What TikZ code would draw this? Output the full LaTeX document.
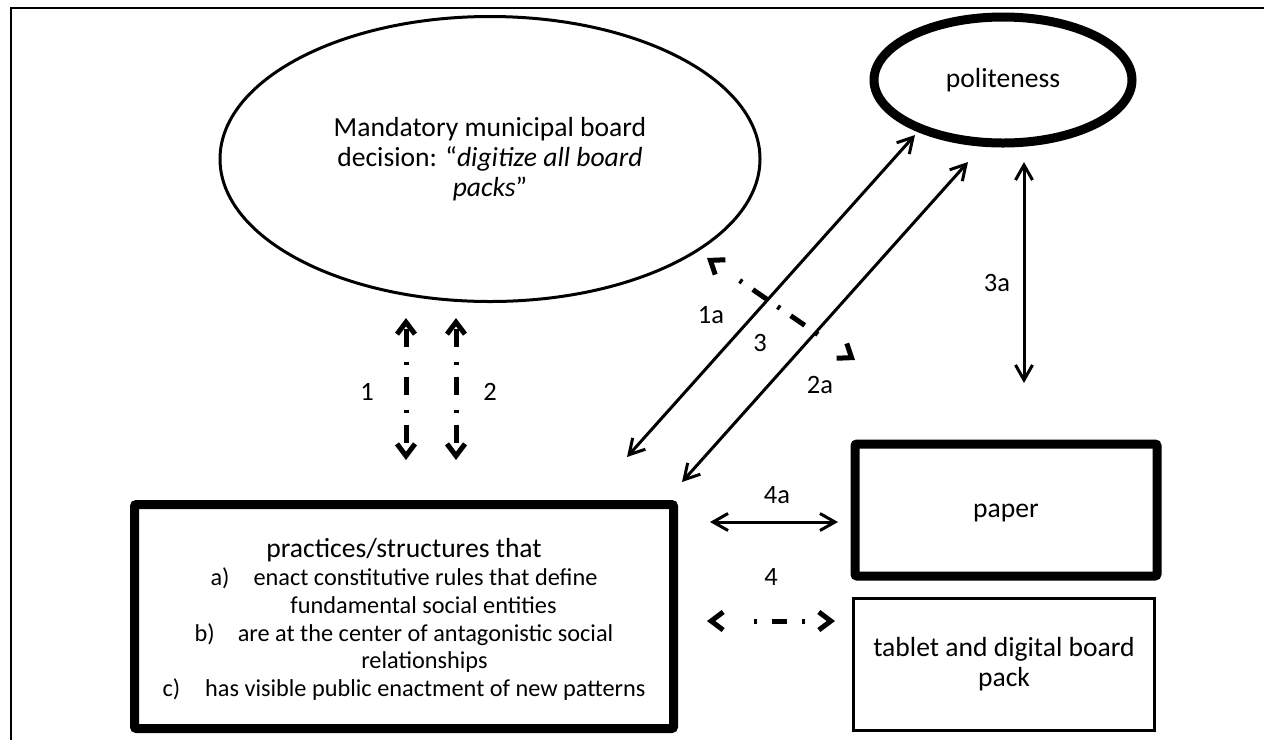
\documentclass[tikz,border=0pt]{standalone}
\usepackage{fontspec}
\setmainfont{Carlito}
\usetikzlibrary{shapes.geometric,arrows.meta}
\begin{document}
\begin{tikzpicture}[x=1pt,y=-1pt,
  every node/.style={inner sep=0pt,outer sep=0pt},
  bigfont/.style={font=\fontsize{27.6}{30}\selectfont},
  thinoval/.style={ellipse,draw,line width=3pt,align=center,bigfont},
  thickoval/.style={ellipse,draw,line width=9pt,bigfont},
  heavybox/.style={draw,line width=9pt,rounded corners=2pt,align=center,bigfont},
  lightbox/.style={draw,line width=3pt,align=center,bigfont},
  lbl/.style={font=\fontsize{26.5}{28}\selectfont},
  solidarrow/.style={line width=3pt,
    {Straight Barb[length=15pt,width=17pt]}-{Straight Barb[length=15pt,width=17pt]}},
  dotdash/.style={line width=5pt,
    {Straight Barb[length=12pt,width=18pt]}-{Straight Barb[length=12pt,width=18pt]}}
]
\useasboundingbox (0,0) rectangle (1264,740);

% outer frame (top and left rules)
\coordinate (fbl) at (11,740);
\coordinate (ftl) at (11,8);
\coordinate (ftr) at (1264,8);
\draw[line width=2.5pt] (fbl) -- (ftl) -- (ftr);

% main shapes
\node[thinoval,minimum width=540pt,minimum height=285pt] (decision) at (490,159)
  {Mandatory municipal board\\decision: “\textit{digitize all board}\\\textit{packs}”};
\node[thickoval,minimum width=258pt,minimum height=126pt] (polite) at (1003,80) {politeness};
\node[heavybox,minimum width=539pt,minimum height=224pt] (practices) at (404,616.5) {};
\node[align=center,font=\fontsize{24.3}{27.8}\selectfont] (practxt) at (404,619.6)
  {{\fontsize{27.6}{27.8}\selectfont practices/structures that}\\
   a)\hspace{24pt}enact constitutive rules that define\\
   \hspace*{39pt}fundamental social entities\\
   b)\hspace{23pt}are at the center of antagonistic social\\
   \hspace*{41pt}relationships\\
   c)\hspace{25pt}has visible public enactment of new patterns};
\node[heavybox,minimum width=302pt,minimum height=132pt,text height=14pt,text depth=0pt] (paper) at (1006,510) {paper};
\node[lightbox,minimum width=301pt,minimum height=132pt] (tablet) at (1004,664.5)
  {tablet and digital board\\pack};

% connector end points
\coordinate (v1t) at (406,318);  \coordinate (v1b) at (406,460);
\coordinate (v2t) at (456,318);  \coordinate (v2b) at (456,460);
\coordinate (d1l) at (627,457);  \coordinate (d1r) at (915,135);
\coordinate (d2l) at (682,482);  \coordinate (d2r) at (968,162);
\coordinate (d3l) at (707,258);  \coordinate (d3r) at (855,360);
\coordinate (p3t) at (1024,162); \coordinate (p3b) at (1024,383);
\coordinate (h4al) at (710,522); \coordinate (h4ar) at (838,522);
\coordinate (h4l) at (707,621);  \coordinate (h4r) at (835,621);

% connectors
\draw[dotdash,dash pattern=on 3pt off 12pt on 18pt off 15pt,dash phase=11pt] (v1t) -- (v1b);
\draw[dotdash,dash pattern=on 3pt off 12pt on 18pt off 15pt,dash phase=11pt] (v2t) -- (v2b);
\draw[solidarrow] (d1l) -- (d1r);
\draw[solidarrow] (d2l) -- (d2r);
\draw[dotdash,dash pattern=on 3pt off 13pt on 17pt off 13pt on 3pt off 13pt on 17pt off 13pt on 3pt off 300pt,dash phase=362pt] (d3l) -- (d3r);
\draw[solidarrow] (p3t) -- (p3b);
\draw[solidarrow] (h4al) -- (h4ar);
\draw[dotdash,dash pattern=on 3pt off 15pt on 15pt off 15pt on 3pt off 200pt,dash phase=211pt] (h4l) -- (h4r);

% connector labels
\node[lbl] (l1) at (367,392) {1};
\node[lbl] (l2) at (490,392) {2};
\node[lbl] (l1a) at (711,315) {1a};
\node[lbl] (l3) at (760,343) {3};
\node[lbl] (l2a) at (820,385) {2a};
\node[lbl] (l3a) at (997,283) {3a};
\node[lbl] (l4a) at (777,495) {4a};
\node[lbl] (l4) at (771,577) {4};
\end{tikzpicture}
\end{document}
